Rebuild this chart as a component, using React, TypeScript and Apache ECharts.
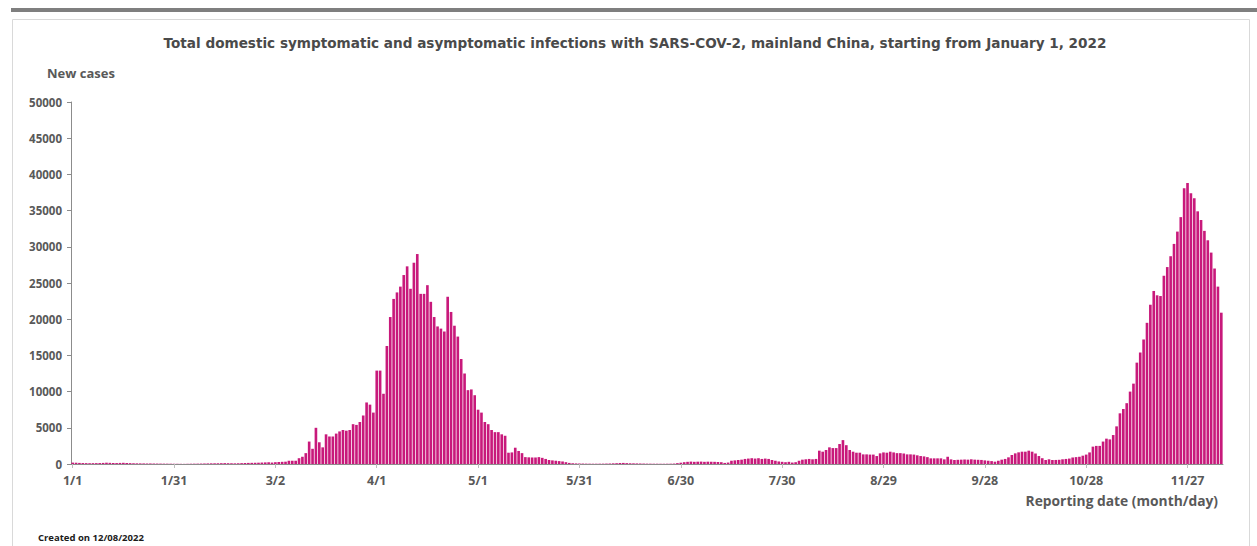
import React, { useEffect, useRef } from "react";
import * as echarts from "echarts";

const monthLengths = [31, 28, 31, 30, 31, 30, 31, 31, 30, 31, 30, 7];

const jan = [190,175,150,130,120,110,115,120,130,150,180,160,140,130,150,165,140,120,100,90,85,80,70,75,65,60,55,50,45,40,35];
const feb = [30,25,20,30,40,45,50,60,70,80,90,95,100,110,120,110,100,90,100,120,140,150,160,170,180,200,220,240];
const mar = [200,250,280,300,320,450,450,450,800,1000,1500,3100,2100,5000,3000,2300,4100,3800,3800,4200,4500,4700,4600,4700,5500,5400,5800,6700,8500,8200,7100];
const apr = [12900,12900,9700,16300,20300,22800,23700,24500,26100,27300,24200,27800,29000,23500,23500,24700,22400,20300,19000,18700,18300,23100,21000,19100,17600,14500,12500,10200,10300,9500];
const may = [7500,7100,5800,5500,4700,4400,4400,4100,3900,1560,1600,2250,1800,1500,950,920,900,900,950,850,700,550,500,450,400,350,250,150,100,80,70];
const jun = [60,50,45,40,40,45,50,60,70,90,110,140,150,120,100,90,80,70,60,50,45,40,40,35,35,40,45,60,120,180];
const jul = [250,300,330,300,320,330,300,320,310,300,280,250,150,200,450,500,550,600,700,750,800,750,800,700,750,700,550,450,350,300,250];
const aug = [300,200,250,450,600,650,700,650,700,1840,1700,1930,2300,2200,2200,2760,3300,2600,1930,1700,1560,1560,1330,1330,1300,1300,1100,1470,1600,1560,1700];
const sep = [1600,1500,1500,1450,1330,1330,1300,1200,1100,1050,950,780,780,780,780,640,1000,640,550,580,600,620,600,650,600,580,560,500,450,400];
const oct = [320,450,600,700,920,1240,1470,1610,1700,1700,1840,1700,1450,1100,800,550,650,550,560,580,650,700,750,900,950,1000,1150,1300,1600,2400,2500];
const nov = [2500,3100,3500,3400,4000,5200,7000,7600,8400,10000,11100,14000,15400,17200,19500,22000,23900,23300,23200,26000,27200,28700,30400,32100,34100,38100,38800,37400,36700,34900];
const dec = [33700,32200,30900,29200,27000,24500,20900];

const newCases = [...jan, ...feb, ...mar, ...apr, ...may, ...jun, ...jul, ...aug, ...sep, ...oct, ...nov, ...dec];

const categories: string[] = [];
monthLengths.forEach((len, m) => {
  for (let d = 1; d <= len; d++) categories.push(`${m + 1}/${d}`);
});

const tickLabels = ["1/1", "1/31", "3/2", "4/1", "5/1", "5/31", "6/30", "7/30", "8/29", "9/28", "10/28", "11/27"];

const titleText = "Total domestic symptomatic and asymptomatic infections with SARS-COV-2, mainland China, starting from January 1, 2022";
const yName = "New cases";
const xName = "Reporting date (month/day)";
const footnote = "Created on 12/08/2022";

const FONT = "'Open Sans', 'Noto Sans', sans-serif";

export default function App() {
  const ref = useRef<HTMLDivElement>(null);
  useEffect(() => {
    if (!ref.current) return;
    const chart = echarts.init(ref.current, null, { renderer: "svg" });
    chart.setOption({
      animation: false,
      backgroundColor: "#ffffff",
      grid: { left: 71, right: 34, top: 102, bottom: 82, containLabel: false },
      xAxis: {
        type: "category",
        data: categories,
        boundaryGap: true,
        axisLine: { show: true, lineStyle: { color: "#8c8c8c", width: 1 } },
        axisTick: {
          show: true,
          alignWithLabel: true,
          length: 4,
          lineStyle: { color: "#bfbfbf" },
          interval: (i: number, v: string) => tickLabels.includes(v),
        },
        axisLabel: {
          interval: (i: number, v: string) => tickLabels.includes(v),
          fontFamily: FONT,
          fontSize: 12.5,
          fontWeight: "bold",
          color: "#595959",
          margin: 10,
        },
        splitLine: { show: false },
      },
      yAxis: {
        type: "value",
        min: 0,
        max: 50000,
        interval: 5000,
        axisLine: { show: true, lineStyle: { color: "#8c8c8c", width: 1 } },
        axisTick: { show: true, inside: false, length: 4, lineStyle: { color: "#8c8c8c" } },
        axisLabel: {
          formatter: (v: number) => String(v),
          fontFamily: FONT,
          fontSize: 11.5,
          fontWeight: "bold",
          color: "#595959",
          margin: 9,
        },
        splitLine: { show: false },
      },
      series: [
        {
          type: "bar",
          data: newCases,
          barCategoryGap: "22%",
          itemStyle: { color: "#C8197B" },
        },
      ],
      graphic: [
        {
          type: "rect",
          shape: { x: 11, y: 8, width: 1246, height: 4 },
          style: { fill: "#7f7f7f" },
          silent: true,
        },
        {
          type: "rect",
          shape: { x: 12.5, y: 19.5, width: 1237, height: 540 },
          style: { fill: "none", stroke: "#d9d9d9", lineWidth: 1 },
          silent: true,
        },
        {
          type: "text",
          x: 635,
          y: 43,
          style: {
            text: titleText,
            fontFamily: "'DejaVu Sans', sans-serif",
            fontSize: 13.6,
            fontWeight: "bold",
            fill: "#4a4a4a",
            align: "center",
            verticalAlign: "middle",
          },
        },
        {
          type: "text",
          x: 47,
          y: 73,
          style: {
            text: yName,
            fontFamily: FONT,
            fontSize: 13,
            fontWeight: "bold",
            fill: "#595959",
            align: "left",
            verticalAlign: "middle",
          },
        },
        {
          type: "text",
          x: 1218,
          y: 500,
          style: {
            text: xName,
            fontFamily: FONT,
            fontSize: 13.8,
            fontWeight: "bold",
            fill: "#595959",
            align: "right",
            verticalAlign: "middle",
          },
        },
        {
          type: "text",
          x: 38,
          y: 537,
          style: {
            text: footnote,
            fontFamily: FONT,
            fontSize: 9.5,
            fontWeight: "bold",
            fill: "#1a1a1a",
            align: "left",
            verticalAlign: "middle",
          },
        },
      ],
    });
    return () => chart.dispose();
  }, []);
  return (
    <div
      ref={ref}
      style={{ position: "absolute", left: 0, top: 0, width: 1257, height: 546, background: "#fff" }}
    />
  );
}
